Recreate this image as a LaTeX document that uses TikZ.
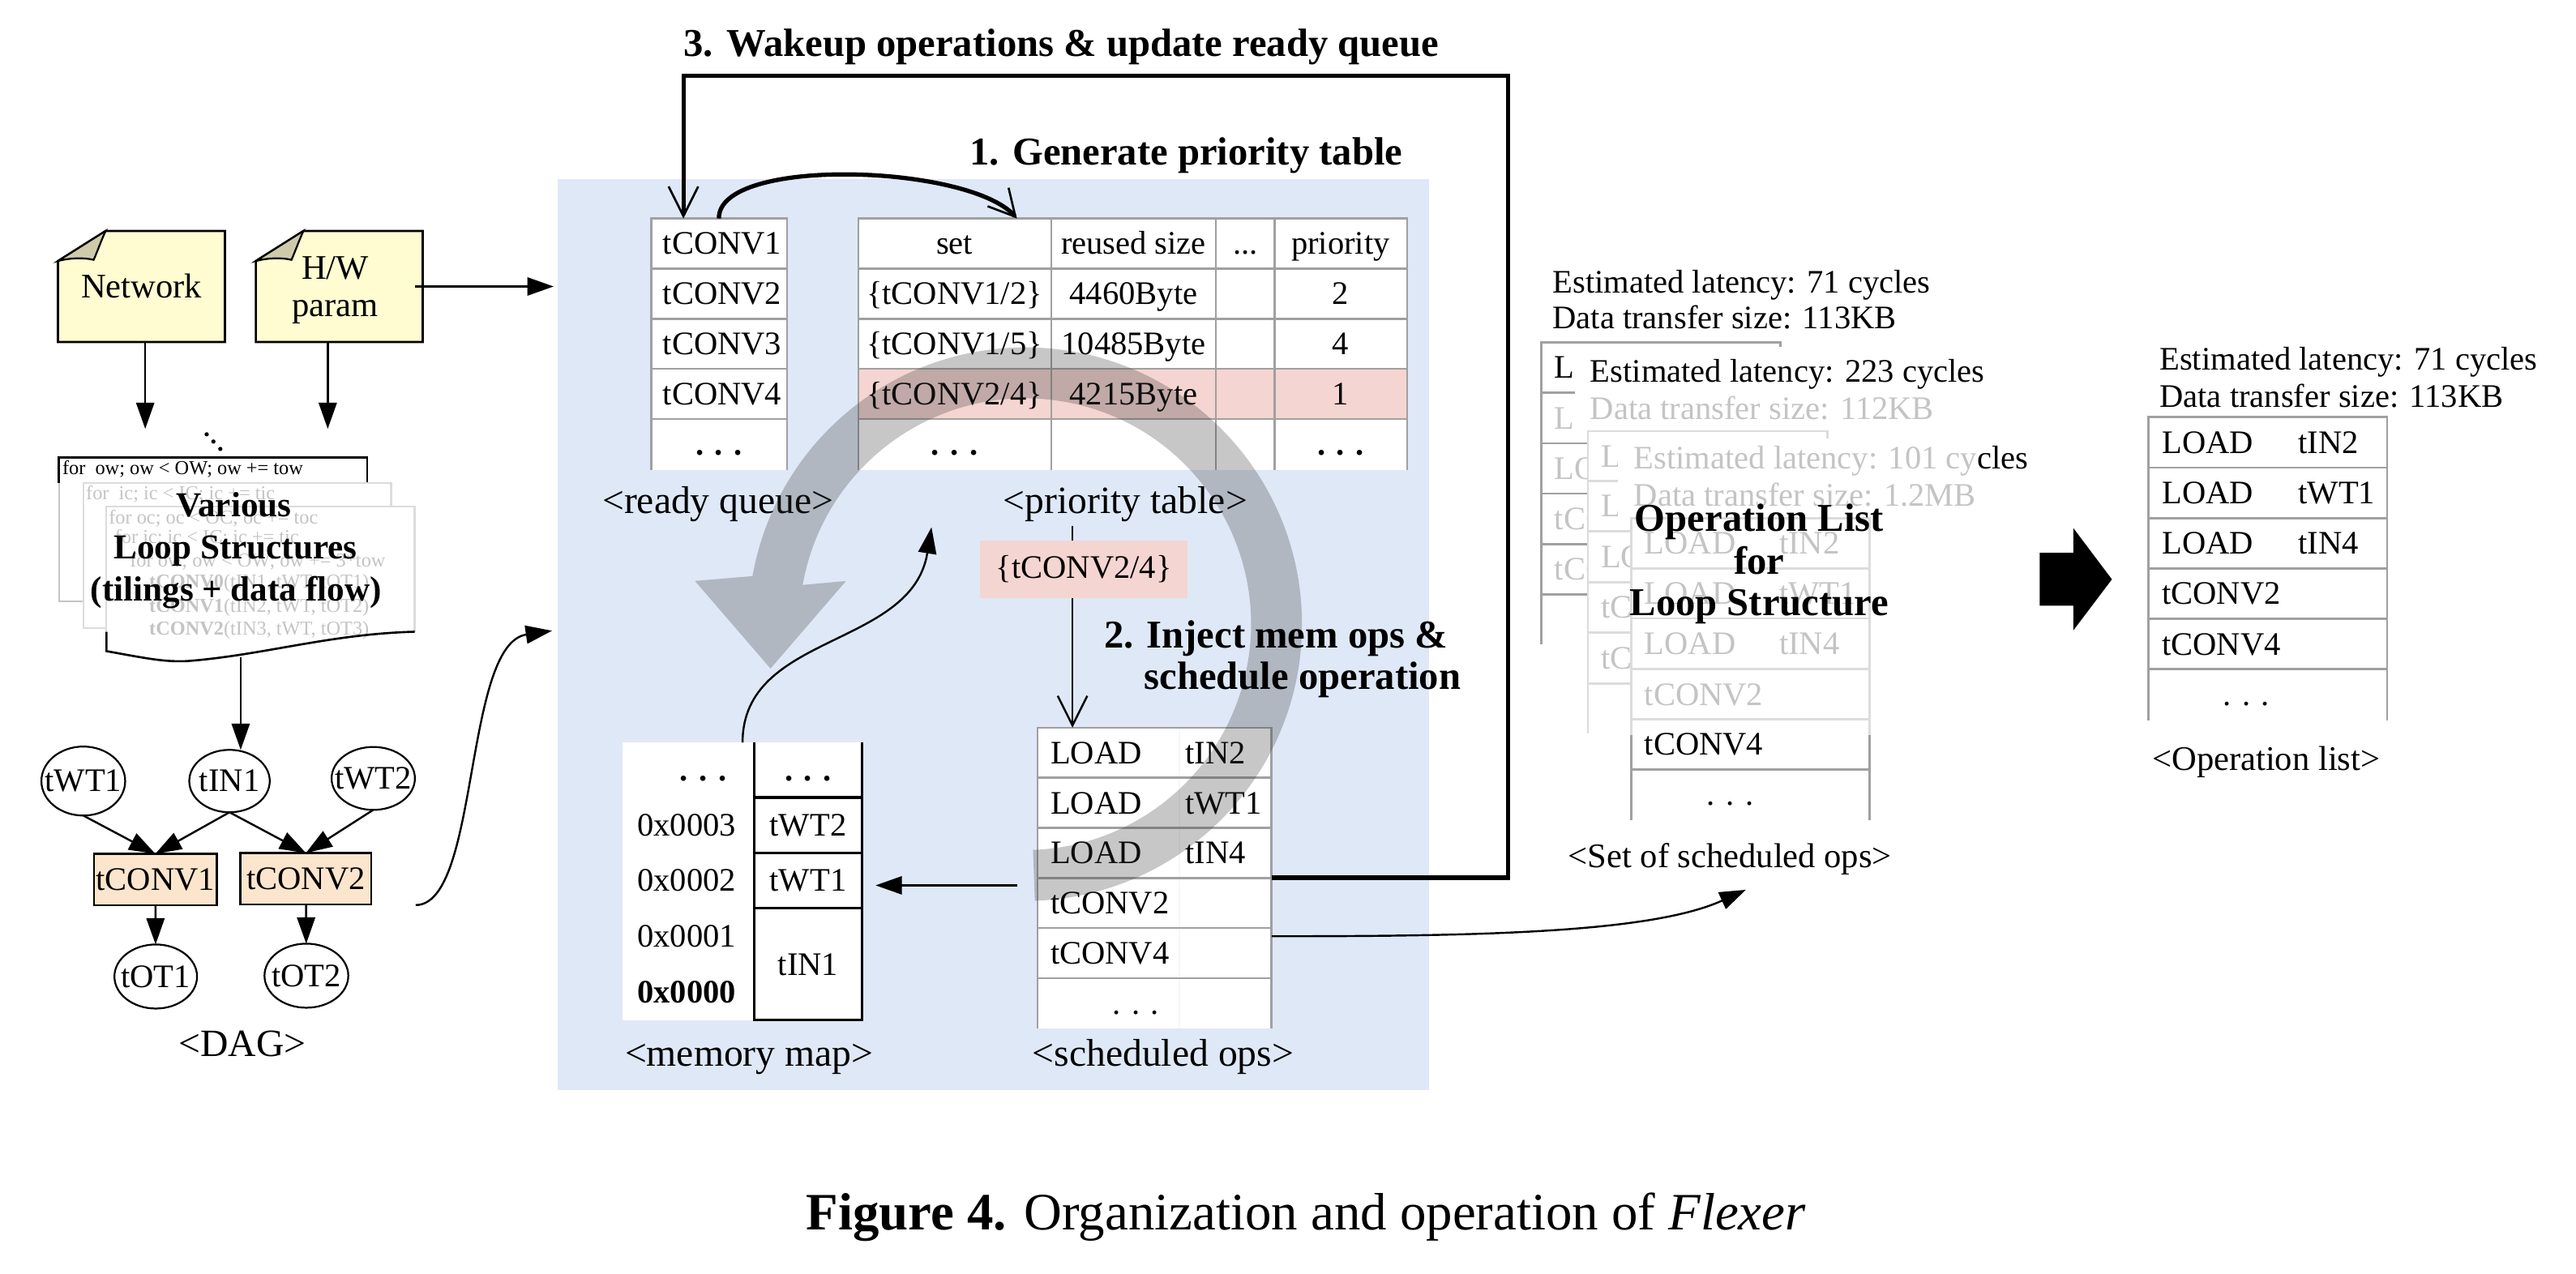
\documentclass[tikz,border=0pt]{standalone}
\usepackage{fontspec}
\setmainfont{Liberation Serif}
\usetikzlibrary{arrows.meta,shapes.geometric}
\definecolor{panelblue}{HTML}{DFE8F7}
\definecolor{pinkrow}{HTML}{F5D5D1}
\definecolor{noteyellow}{HTML}{FFFCD2}
\definecolor{notefold}{HTML}{CFCBAA}
\definecolor{peach}{HTML}{FCE5CD}
\definecolor{tline}{HTML}{A0A0A0}
\definecolor{fadetxt}{HTML}{C4C4C4}
\definecolor{fadeline}{HTML}{DCDCDC}
\newcommand{\myfs}[1]{\fontsize{#1}{#1}\selectfont}
\tikzset{
  base/.style={inner sep=0pt, outer sep=0pt},
  cellw/.style={base, anchor=west, font=\myfs{20}, text height=13.2pt, text depth=0pt},
  cellc/.style={base, anchor=center, font=\myfs{20}, text height=13.2pt, text depth=0pt},
  lbl/.style={base, font=\myfs{23.5}, text height=15.5pt, text depth=0pt},
  lblr/.style={base, font=\myfs{21}, text height=13.9pt, text depth=0pt},
  steplbl/.style={base, font=\bfseries\myfs{24}, text height=15.9pt, text depth=0pt},
  boldov/.style={base, font=\bfseries\myfs{21.3}, text height=14.1pt, text depth=0pt},
  codeln/.style={base, anchor=west, font=\myfs{12}, text height=7.9pt, text depth=0pt, text=fadetxt},
  grid/.style={tline, line width=1.3pt},
  fgrid/.style={fadeline, line width=1.3pt},
  tri/.style={line width=1.2pt, -{Triangle[length=16pt,width=11pt]}},
  barb/.style={-{Straight Barb[length=18pt,width=18pt]}},
  heavy/.style={line width=2.6pt},
  dagell/.style={base, ellipse, draw, line width=1.1pt, fill=white},
  dagbox/.style={base, draw, line width=1.1pt, fill=peach, font=\myfs{20}},
  notebox/.pic={
    \draw[line width=1.3pt, fill=noteyellow] (29,0) -- (101.6,0) -- (101.6,67.6) -- (0,67.6) -- (0,18.3) -- cycle;
    \draw[line width=1.1pt, fill=notefold] (0,18.3) -- (29,0) .. controls (26,6.5) and (24,12.5) .. (21.7,17.6) .. controls (15,16) and (7,16.5) .. cycle;
  },
}
\begin{document}
\begin{tikzpicture}[x=1pt,y=-1pt]
\useasboundingbox (0,0) rectangle (1568,775.6);
\fill[white] (0,0) rectangle (1568,775.6);

% ===== blue panel
\fill[panelblue] (339.5,109) rectangle (870,663.5);

% ===== ready queue
\fill[white] (396.5,133) rectangle (479,286);
\draw[grid] (396.5,286) -- (396.5,133) -- (479,133) -- (479,286);
\foreach \y in {163.5,194,224.5,255} \draw[grid] (396.5,\y) -- (479,\y);
\node[cellw] (rq1) at (403.5,148.25) {tCONV1};
\node[cellw] (rq2) at (403.5,178.75) {tCONV2};
\node[cellw] (rq3) at (403.5,209.25) {tCONV3};
\node[cellw] (rq4) at (403.5,239.75) {tCONV4};
\node[cellc] (rq5) at (437.6,270.5) {\bfseries . . .};
\node[lbl] (rqlbl) at (437,305) {<ready queue>};
\coordinate (rqA) at (416,133);
\coordinate (rqB) at (437.6,133);

% ===== priority table
\fill[white] (522.5,133) rectangle (856.5,286);
\fill[pinkrow] (522.5,224.5) rectangle (856.5,255);
\draw[grid] (522.5,286) -- (522.5,133) -- (856.5,133) -- (856.5,286);
\foreach \x in {640,740,776} \draw[grid] (\x,133) -- (\x,286);
\foreach \y in {163.5,194,224.5,255} \draw[grid] (522.5,\y) -- (856.5,\y);
\node[cellc] (h1) at (581,148.25) {set};
\node[cellc] (h2) at (690,148.25) {reused size};
\node[cellc] (h3) at (758,148.25) {...};
\node[cellc] (h4) at (816,148.25) {priority};
\node[cellc] (a1) at (581,178.75) {\{tCONV1/2\}};
\node[cellc] (a2) at (690,178.75) {4460Byte};
\node[cellc] (a4) at (816,178.75) {2};
\node[cellc] (b1) at (581,209.25) {\{tCONV1/5\}};
\node[cellc] (b2) at (690,209.25) {10485Byte};
\node[cellc] (b4) at (816,209.25) {4};
\node[cellc] (c1) at (581,239.75) {\{tCONV2/4\}};
\node[cellc] (c2) at (690,239.75) {4215Byte};
\node[cellc] (c4) at (816,239.75) {1};
\node[cellc] (d1) at (581,270.5) {\bfseries . . .};
\node[cellc] (d4) at (816,270.5) {\bfseries . . .};
\node[lbl] (ptlbl) at (685,305) {<priority table>};
\coordinate (ptA) at (619,133);

% ===== pink selected set
\node[base, fill=pinkrow, minimum width=126.5pt, minimum height=35pt, font=\myfs{20}] (pick) at (659.75,346.5) {\{tCONV2/4\}};

% ===== scheduled ops
\fill[white] (631.5,443) rectangle (774,626);
\draw[gray!6, line width=1pt] (718,443) -- (718,626);
\draw[grid] (631.5,626) -- (631.5,443) -- (774,443) -- (774,626);
\foreach \y in {473.5,504,534.5,565,595.5} \draw[grid] (631.5,\y) -- (774,\y);
\node[cellw] (so1a) at (639.5,458.3) {LOAD};
\node[cellw] (so1b) at (721.5,458.3) {tIN2};
\node[cellw] (so2a) at (639.5,488.8) {LOAD};
\node[cellw] (so2b) at (721.5,488.8) {tWT1};
\node[cellw] (so3a) at (639.5,519.3) {LOAD};
\node[cellw] (so3b) at (721.5,519.3) {tIN4};
\node[cellw] (so4) at (639.5,549.8) {tCONV2};
\node[cellw] (so5) at (639.5,580.3) {tCONV4};
\node[cellc] (so6) at (691.4,610.8) {. . .};
\node[lbl] (solbl) at (708,641.5) {<scheduled ops>};

% ===== memory map
\fill[white] (379,452) rectangle (524.7,621);
\draw[black, line width=1.5pt] (459,452) -- (459,621) -- (524.7,621) -- (524.7,452);
\foreach \y in {485.5,519.5,553} \draw[black, line width=1.5pt] (459,\y) -- (524.7,\y);
\node[cellc] (mmd) at (428,468.8) {\bfseries . . .};
\node[cellw] (m3) at (388,502.5) {0x0003};
\node[cellw] (m2) at (388,536) {0x0002};
\node[cellw] (m1) at (388,570) {0x0001};
\node[cellw] (m0) at (388,604) {\bfseries 0x0000};
\node[cellc] (mrd) at (491.9,468.8) {\bfseries . . .};
\node[cellc] (mr3) at (491.9,502.5) {tWT2};
\node[cellc] (mr2) at (491.9,536) {tWT1};
\node[cellc] (mr1) at (491.9,587) {tIN1};
\node[lbl] (mmlbl) at (456,641.5) {<memory map>};

% ===== big grey cycle arrow
\fill[black!80, opacity=0.27] (624,380) ++(88:168.5) arc[start angle=88, end angle=-170, radius=168.5]
  -- (423,353.7) -- (469,407) -- (515,353.7) -- (488.59,356.12)
  arc[start angle=-170, end angle=88, radius=137.5] -- cycle;

% ===== step labels
\node[steplbl] (s3) at (646,26.5) {3. Wakeup operations \& update ready queue};
\node[steplbl] (s1) at (722,92.5) {1. Generate priority table};
\node[steplbl, anchor=west] (s2a) at (672,386.5) {2. Inject mem ops \&};
\node[steplbl, anchor=west] (s2b) at (696.5,411.5) {schedule operation};

% ===== connectors inside panel
\coordinate (ptl) at (652.8,320.3);
\coordinate (schTop) at (652.8,443);
\draw[line width=1.2pt] (ptl) -- (ptl |- pick.north);
\draw[line width=1.2pt, barb] (schTop |- pick.south) -- (schTop);
\coordinate (schL) at (619,539);
\coordinate (mmR) at (533,539);
\draw[tri] (schL) -- (mmR);
\coordinate (mmTop) at (452,452);
\coordinate (ptTip) at (567,321);
\draw[tri] (mmTop) .. controls (452,385) and (555,395) .. (ptTip);
\coordinate (schR) at (774,534.3);
\draw[heavy, -{Straight Barb[length=18pt,width=18pt,line width=1.3pt]}] (schR) -- (918,534.3) -- (918,46) -- (416,46) -- (rqA);
\draw[heavy, -{Straight Barb[length=16pt,width=17pt,line width=1.3pt]}] (rqB) .. controls (437,95) and (590,100) .. (ptA);

% ===== notes
\pic at (35.3,140.6) {notebox};
\pic at (155.7,140.6) {notebox};
\node[base, font=\myfs{21}, text height=13.9pt, text depth=0pt] (net) at (86.1,174.4) {Network};
\node[base, font=\myfs{21}, text height=13.9pt, text depth=0pt] (hw1) at (204,163) {H/W};
\node[base, font=\myfs{21}, text height=13.9pt, text depth=0pt] (hw2) at (204,185.7) {param};
\coordinate (netS) at (88.4,208.2);
\coordinate (hwS) at (199.5,208.2);
\coordinate (netT) at (88.4,261.1);
\coordinate (hwT) at (199.5,261.1);
\coordinate (hwE) at (252.4,174.4);
\coordinate (pin1) at (337,174.4);
\draw[tri] (netS) -- (netT);
\draw[tri] (hwS) -- (hwT);
\draw[tri] (hwE) -- (pin1);

% ===== loop structure documents
\fill (125.8,264.4) circle (1.3);
\fill (129.9,268.8) circle (1.3);
\fill (134.1,273.3) circle (1.3);
\fill[white] (35.9,278.4) rectangle (223.5,366);
\draw[line width=1.3pt] (35.9,294) -- (35.9,278.4) -- (223.5,278.4) -- (223.5,294);
\draw[fadetxt, line width=1pt] (35.9,294) -- (35.9,366) -- (50.7,366);
\node[codeln, text=black] (cl0) at (38,284.8) {for\ \ ow; ow < OW; ow += tow};
\fill[white] (50.7,294) rectangle (238.1,382.5);
\draw[fadeline, line width=1.1pt] (64.8,382.5) -- (50.7,382.5) -- (50.7,294) -- (238.1,294) -- (238.1,308.5);
\node[codeln] (cl1) at (52.4,300.3) {for\ \ ic; ic < IC; ic += tic};
\fill[white] (64.8,308.5) -- (252.4,308.5) -- (252.4,384.6) .. controls (200,386) and (160,399) .. (113.4,402.5) .. controls (100,403) and (90,401) .. (64.8,396.4) -- cycle;
\draw[fadeline, line width=1.1pt] (64.8,384.6) -- (64.8,308.5) -- (252.4,308.5) -- (252.4,384.6);
\node[codeln] (cl2) at (66.3,314.9) {for oc; oc < OC; oc += toc};
\node[codeln] (cl3) at (70,326.8) {for ic; ic < IC; ic += tic};
\node[codeln] (cl4) at (79.1,341.4) {for ow; ow < OW; ow += 3*tow};
\node[codeln] (cl5) at (90.9,354.2) {\textbf{tCONV0}(tIN1, tWT, tOT1)};
\node[codeln] (cl6) at (90.9,368.8) {\textbf{tCONV1}(tIN2, tWT, tOT2)};
\node[codeln] (cl7) at (90.9,382.5) {\textbf{tCONV2}(tIN3, tWT, tOT3)};
\draw[line width=1.3pt] (64.8,384.6) -- (64.8,396.4) .. controls (90,401) and (100,403) .. (113.4,402.5) .. controls (160,399) and (200,386) .. (252.4,384.6);
\node[boldov] (lv1) at (142.2,307.6) {Various};
\node[boldov] (lv2) at (143.3,333.2) {Loop Structures};
\node[boldov] (lv3) at (143.7,358.7) {(tilings + data flow)};
\coordinate (docS) at (146.5,399.9);

% ===== DAG
\node[dagell, minimum width=51pt, minimum height=42pt] (tWT1) at (50.7,475.5) {};
\node[dagell, minimum width=49pt, minimum height=38pt] (tIN1) at (139.7,475.5) {};
\node[dagell, minimum width=50.7pt, minimum height=38.3pt] (tWT2) at (227.2,473.9) {};
\node[dagell, minimum width=50.3pt, minimum height=39pt] (tOT1) at (94.8,594.5) {};
\node[dagell, minimum width=51pt, minimum height=39pt] (tOT2) at (186.5,594) {};
\node[base, font=\myfs{20}] at (tWT1) {tWT1};
\node[base, font=\myfs{20}] at (tIN1) {tIN1};
\node[base, font=\myfs{20}] at (tWT2) {tWT2};
\node[base, font=\myfs{20}] at (tOT1) {tOT1};
\node[base, font=\myfs{20}] at (tOT2) {tOT2};
\node[dagbox, minimum width=74.9pt, minimum height=31.5pt] (tC1) at (94.55,535.55) {tCONV1};
\node[dagbox, minimum width=79.8pt, minimum height=31.5pt] (tC2) at (186.2,535.05) {tCONV2};
\draw[tri] (docS) -- (docS |- tIN1.north);
\draw[tri] (tWT1.south) -- (tC1.north);
\draw[tri] (tIN1.south) -- (tC1.north);
\draw[tri] (tIN1.south) -- (tC2.north);
\draw[tri] (tWT2.south) -- (tC2.north);
\draw[tri] (tC1) -- (tOT1);
\draw[tri] (tC2) -- (tOT2);
\node[lbl] (daglbl) at (147.6,635.2) {<DAG>};
\coordinate (dagOut) at (253,551);
\coordinate (pin2) at (336,384);
\draw[tri] (dagOut) .. controls (292,551) and (282,392) .. (pin2);

% ===== set of scheduled ops (stack)
% list 1
\node[cellw] (l1h1) at (945.1,171.9) {Estimated latency: 71 cycles};
\node[cellw] (l1h2) at (945.1,193.3) {Data transfer size: 113KB};
\draw[grid] (938.3,392.2) -- (938.3,208.4) -- (1083.7,208.4) -- (1083.7,392.2);
\foreach \y in {239.1,269.8,300.5,331.2,361.9} \draw[grid] (938.3,\y) -- (1083.7,\y);
\node[cellw] at (946.3,223.75) {LOAD};
\node[cellw, text=fadetxt] at (946.3,254.45) {LOAD};
\node[cellw, text=fadetxt] at (946.3,285.15) {LOAD};
\node[cellw, text=fadetxt] at (946.3,315.85) {tCONV2};
\node[cellw, text=fadetxt] at (946.3,346.55) {tCONV4};
% cover for list 2
\fill[white] (958.7,211) rectangle (1095,262.5);
\fill[white] (966.5,262.5) rectangle (1095,400);
% list 2
\node[cellw] (l2h1) at (968,226) {Estimated latency: 223 cycles};
\node[cellw, text=fadetxt] (l2h2) at (968,248.7) {Data transfer size: 112KB};
\draw[fgrid] (966.5,446.3) -- (966.5,262.5) -- (1112.4,262.5) -- (1112.4,446.3);
\foreach \y in {292.7,323.4,354.4,385.1,416.1} \draw[fgrid] (966.5,\y) -- (1112.4,\y);
\node[cellw, text=fadetxt] at (974.5,277.6) {LOAD};
\node[cellw, text=fadetxt] at (974.5,308.05) {LOAD};
\node[cellw, text=fadetxt] at (974.5,338.9) {LOAD};
\node[cellw, text=fadetxt] at (974.5,369.75) {tCONV2};
\node[cellw, text=fadetxt] at (974.5,400.6) {tCONV4};
% cover for list 3
\fill[white] (985,267) rectangle (1125,315.4);
\fill[white] (993,315.4) rectangle (1125,452);
% list 3
\node[cellw] (l3h1) at (994.6,278.9) {\textcolor{fadetxt}{Estimated latency: 101 cy}cles};
\node[cellw, text=fadetxt] (l3h2) at (994.6,301.5) {Data transfer size: 1.2MB};
\fill[white] (993,315.4) rectangle (1137.9,499.1);
\draw[fgrid] (993,447.5) -- (993,315.4) -- (1137.9,315.4) -- (1137.9,447.5);
\draw[grid] (993,447.5) -- (993,499.1);
\draw[grid] (1137.9,447.5) -- (1137.9,499.1);
\foreach \y in {346.1,376.5,407.3,438} \draw[fgrid] (993,\y) -- (1137.9,\y);
\draw[grid] (993,468.4) -- (1137.9,468.4);
\node[cellw, text=fadetxt] at (1001,330.75) {LOAD};
\node[cellw, text=fadetxt] at (1083,330.75) {tIN2};
\node[cellw, text=fadetxt] at (1001,361.3) {LOAD};
\node[cellw, text=fadetxt] at (1083,361.3) {tWT1};
\node[cellw, text=fadetxt] at (1001,391.9) {LOAD};
\node[cellw, text=fadetxt] at (1083,391.9) {tIN4};
\node[cellw, text=fadetxt] at (1001,422.65) {tCONV2};
\node[cellw] (l3r5) at (1001,453.2) {tCONV4};
\node[cellc] (l3r6) at (1053.2,483.75) {. . .};
\node[steplbl] (ol1) at (1070.8,315.4) {Operation List};
\node[steplbl] (ol2) at (1070.8,341.8) {for};
\node[steplbl] (ol3) at (1070.8,367) {Loop Structure};
\node[lblr] (setlbl) at (1053,521.2) {<Set of scheduled ops>};
\coordinate (schR5) at (774,570);
\coordinate (setIn) at (1062.7,541.7);
\draw[tri] (schR5) .. controls (900,570) and (1005,568) .. (setIn);

% ===== block arrow
\fill[black] (1241.5,336.6) -- (1262,336.6) -- (1262,321.5) -- (1285.5,352.7) -- (1262,383.8) -- (1262,368.7) -- (1241.5,368.7) -- cycle;

% ===== final operation list
\node[cellw] (oh1) at (1314.6,218.6) {Estimated latency: 71 cycles};
\node[cellw] (oh2) at (1314.6,241.3) {Data transfer size: 113KB};
\fill[white] (1307.6,253.9) rectangle (1453,438.6);
\draw[grid] (1307.6,438.6) -- (1307.6,253.9) -- (1453,253.9) -- (1453,438.6);
\foreach \y in {284.7,315.5,346,376.8,407.4} \draw[grid] (1307.6,\y) -- (1453,\y);
\node[cellw] (o1a) at (1316,269.3) {LOAD};
\node[cellw] (o1b) at (1399,269.3) {tIN2};
\node[cellw] (o2a) at (1316,300.1) {LOAD};
\node[cellw] (o2b) at (1399,300.1) {tWT1};
\node[cellw] (o3a) at (1316,330.75) {LOAD};
\node[cellw] (o3b) at (1399,330.75) {tIN4};
\node[cellw] (o4) at (1316,361.4) {tCONV2};
\node[cellw] (o5) at (1316,392.1) {tCONV4};
\node[cellc] (o6) at (1367.3,423) {. . .};
\node[lblr] (oplbl) at (1379.4,462) {<Operation list>};

% ===== caption
\node[base, font=\myfs{32}, text height=21.2pt, text depth=0pt] (cap) at (795,738) {\textbf{Figure 4.} Organization and operation of \textit{Flexer}};
\end{tikzpicture}
\end{document}
